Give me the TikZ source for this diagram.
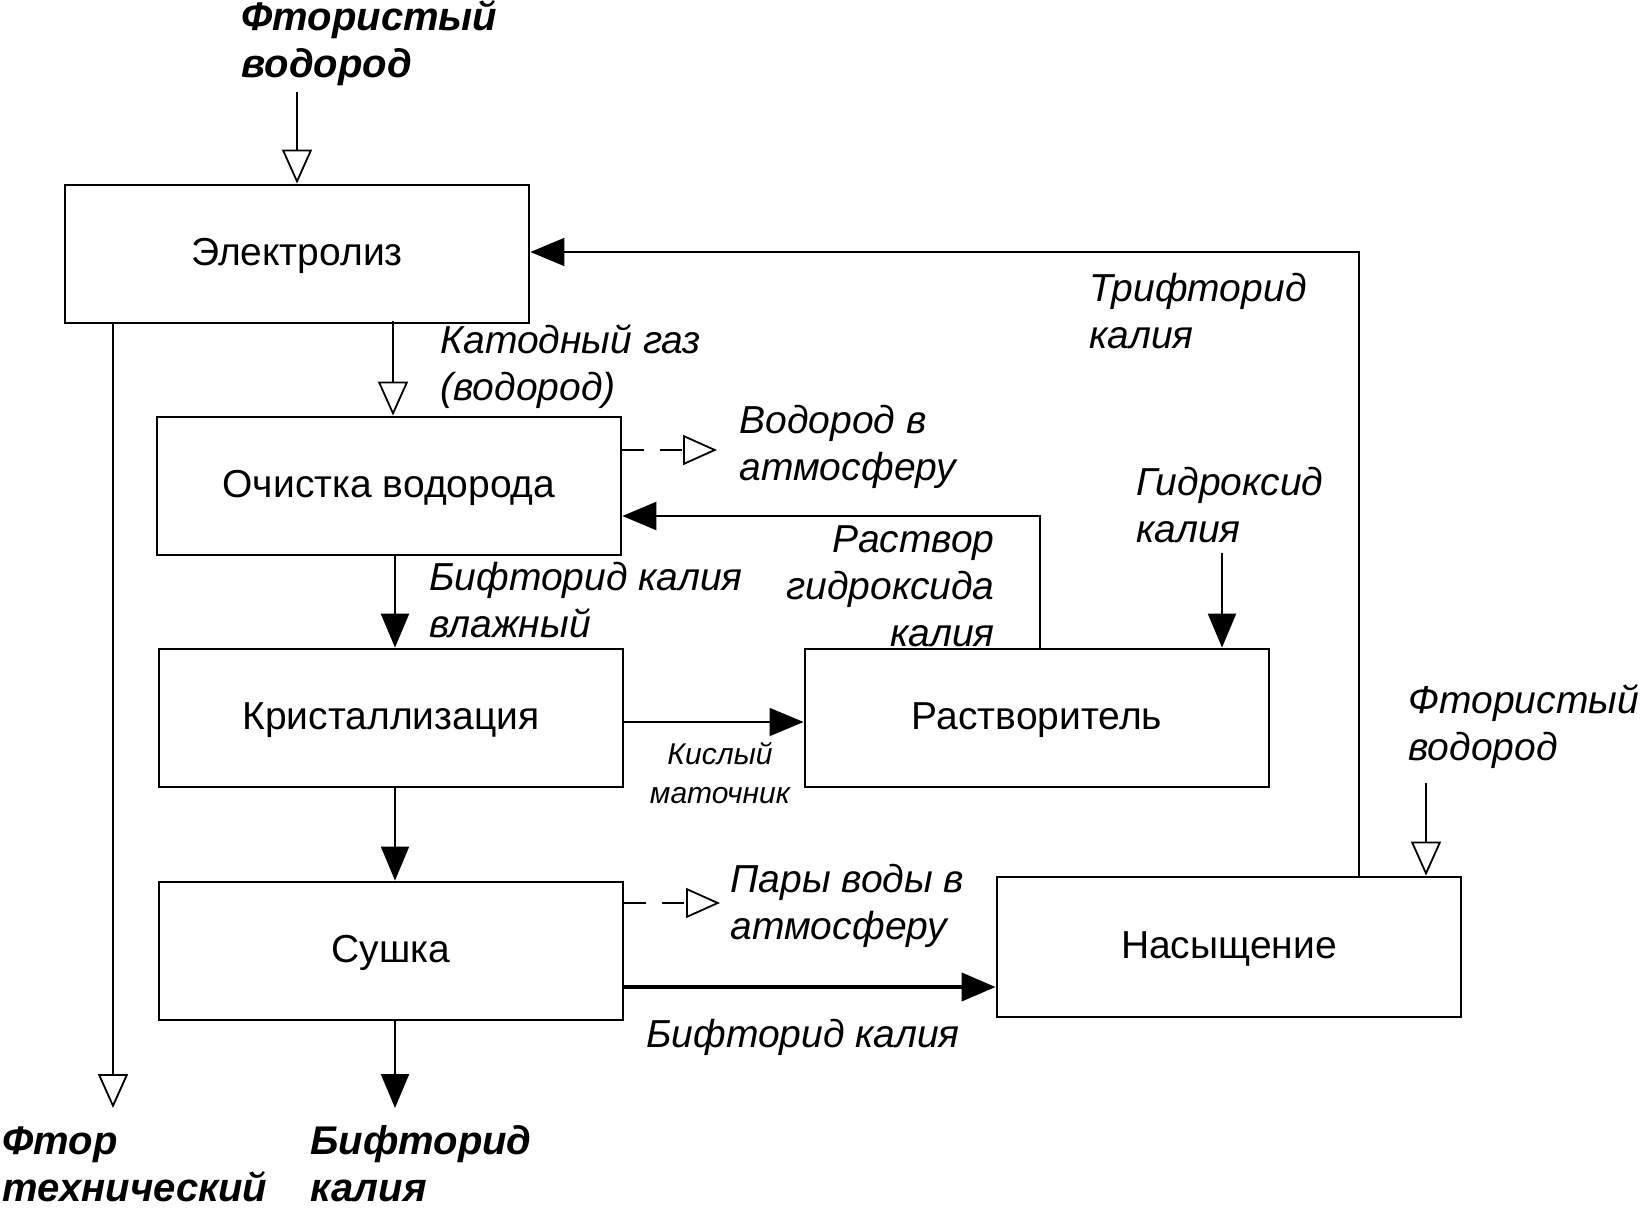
\documentclass[tikz,border=0pt]{standalone}
\usepackage{fontspec}
\setmainfont{Liberation Sans}
\usetikzlibrary{arrows.meta,calc}
\begin{document}
\begin{tikzpicture}[x=0.5pt,y=-0.5pt,
  box/.style={draw, line width=1.4pt, minimum width=232pt, minimum height=69pt, inner sep=0pt, text depth=2pt, font=\fontsize{19.5}{23.5}\selectfont},
  lbl/.style={font=\fontsize{19.5}{23.5}\selectfont\itshape, inner sep=0pt, align=left, anchor=west},
  blbl/.style={font=\fontsize{20}{23.5}\selectfont\bfseries\itshape, inner sep=0pt, align=left, anchor=west},
  slbl/.style={font=\fontsize{15}{19.5}\selectfont\itshape, inner sep=0pt, align=center},
  conn/.style={line width=0.8pt},
  mconn/.style={line width=1.2pt},
  tconn/.style={line width=2pt},
  openhd/.style={-{Triangle[open,length=17pt,width=15pt,line width=0.9pt]}},
  fullhd/.style={-{Triangle[length=17pt,width=14pt]}},
  dsh/.style={dash pattern=on 11pt off 8pt}
]
\useasboundingbox (0,0) rectangle (1642,1213);

% boxes
\node[box] (el) at (297,254) {Электролиз};
\node[box] (och) at (389,486) {Очистка водорода};
\node[box] (kr) at (391,718) {Кристаллизация};
\node[box] (ra) at (1037,718) {Растворитель};
\node[box] (su) at (391,951) {Сушка};
\node[box, minimum height=70pt] (nas) at (1229,947) {Насыщение};

% labels
\node[blbl] (lhf) at (241,43) {Фтористый\\водород};
\node[lbl] (lcat) at (440,367) {Катодный газ\\(водород)};
\node[lbl] (lh2) at (739,447) {Водород в\\атмосферу};
\node[lbl, anchor=east, align=right] (lsol) at (995,586) {Раствор\\гидроксида\\калия};
\node[lbl] (lbw) at (429,600) {Бифторид калия\\влажный};
\node[slbl] (lkm) at (720,773) {Кислый\\маточник};
\node[lbl] (lkoh) at (1136,505) {Гидроксид\\калия};
\node[lbl] (ltri) at (1089,311) {Трифторид\\калия};
\node[lbl] (lhf2) at (1408,727) {Фтористый\\водород};
\node[lbl] (lpw) at (730,906) {Пары воды в\\атмосферу};
\node[lbl] (lbf) at (646,1037) {Бифторид калия};
\node[blbl] (lft) at (2,1164) {Фтор\\технический};
\node[blbl] (lbfo) at (310,1164) {Бифторид\\калия};

% free ends
\coordinate (hfin) at (297,92);
\coordinate (h2out) at (717,450);
\coordinate (rj) at (1040,516);
\coordinate (kohin) at (1222,553);
\coordinate (pwout) at (720,903);
\coordinate (sn) at (625,987);
\coordinate (tj) at (1359,252);
\coordinate (hf2in) at (1426,783);
\coordinate (fout) at (113,1108);
\coordinate (bfout) at (395,1108);

% connectors
\draw[conn, openhd] (hfin) -- (el.north);
\draw[conn, openhd] (och.north -| 393,0) ++(0,-95) coordinate (catin) -- (catin |- och.north);
\draw[mconn, fullhd] (och.south -| 395,0) coordinate (o1) -- (o1 |- kr.north);
\draw[conn, fullhd] (kr.south -| 395,0) coordinate (k1) -- (k1 |- su.north);
\draw[mconn, fullhd] (su.south -| bfout) -- (bfout);
\draw[mconn, openhd] (el.south -| fout) -- (fout);
\draw[mconn, dsh, openhd] (och.east |- h2out) -- (h2out);
\draw[mconn, dsh, openhd] (su.east |- pwout) -- (pwout);
\draw[mconn, fullhd] (ra.north -| rj) -- (rj) -- (och.east |- rj);
\draw[conn, fullhd] (kr.east |- 0,722) coordinate (k2) -- (ra.west |- k2);
\draw[mconn, fullhd] (kohin) -- (ra.north -| kohin);
\draw[tconn, fullhd] (su.east |- sn) -- (nas.west |- sn);
\draw[conn, fullhd] (nas.north -| tj) -- (tj) -- (el.east |- tj);
\draw[mconn, openhd] (hf2in) -- (nas.north -| hf2in);
\end{tikzpicture}
\end{document}
